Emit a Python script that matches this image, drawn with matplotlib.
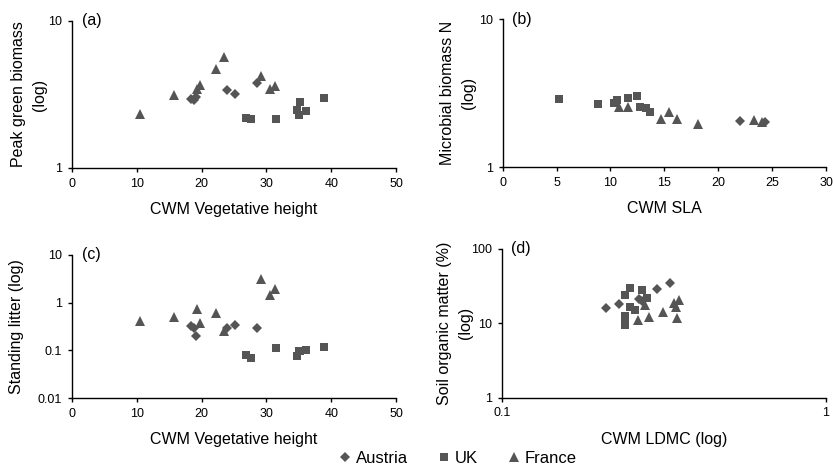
import matplotlib
matplotlib.use('Agg')
import matplotlib.pyplot as plt
from matplotlib.ticker import FuncFormatter, NullLocator, FixedLocator
from matplotlib.lines import Line2D

plt.rcParams['font.family'] = ['Liberation Sans', 'DejaVu Sans']

MARK_COLOR = '#555555'

# CWM vegetative height per site (panels a and c)
austria_height = [18.4, 18.8, 19.1, 23.9, 25.2, 28.6]
uk_height      = [26.9, 27.7, 31.5, 34.7, 35.1, 35.2, 36.1, 38.9]
france_height  = [10.5, 15.7, 19.3, 19.75, 22.2, 23.4, 29.2, 30.5, 31.3]

# (a) peak green biomass
austria_biomass = [2.94, 2.92, 3.02, 3.37, 3.21, 3.76]
uk_biomass      = [2.20, 2.14, 2.15, 2.48, 2.29, 2.83, 2.45, 3.01]
france_biomass  = [2.32, 3.16, 3.46, 3.66, 4.71, 5.71, 4.22, 3.46, 3.62]

# (c) standing litter
austria_litter = [0.33, 0.30, 0.20, 0.29, 0.34, 0.30]
uk_litter      = [0.080, 0.068, 0.114, 0.076, 0.095, 0.099, 0.102, 0.116]
france_litter  = [0.42, 0.50, 0.74, 0.37, 0.60, 0.26, 3.10, 1.48, 1.91]

# (b) CWM SLA vs microbial biomass N
austria_sla  = [22.0, 24.3]
austria_micn = [2.06, 2.01]
uk_sla       = [5.2, 8.8, 10.3, 10.6, 11.6, 12.5, 12.7, 13.3, 13.7]
uk_micn      = [2.90, 2.67, 2.71, 2.86, 2.93, 3.01, 2.54, 2.50, 2.37]
france_sla   = [10.8, 11.6, 14.7, 15.4, 16.2, 18.1, 23.3, 24.1]
france_micn  = [2.55, 2.54, 2.12, 2.37, 2.12, 1.94, 2.07, 2.02]

# (d) CWM LDMC vs soil organic matter
austria_ldmc = [0.210, 0.230, 0.265, 0.271, 0.301, 0.330]
austria_som  = [16.2, 18.4, 21.0, 20.1, 29.0, 35.2]
uk_ldmc      = [0.240, 0.249, 0.270, 0.280, 0.249, 0.258, 0.240, 0.240, 0.240]
uk_som       = [24.0, 29.6, 28.1, 21.7, 16.7, 15.1, 12.5, 11.0, 9.5]
france_ldmc  = [0.264, 0.277, 0.284, 0.314, 0.344, 0.352, 0.347, 0.340]
france_som   = [11.1, 17.6, 12.3, 14.3, 16.7, 20.6, 11.7, 18.5]

MARKERS = {
    'Austria': dict(marker='D', markersize=5.0),
    'UK':      dict(marker='s', markersize=6.0),
    'France':  dict(marker='^', markersize=7.2),
}

LABEL_SIZE = 11.5


def scatter(ax, xs, ys, country):
    ax.plot(xs, ys, ls='none', color=MARK_COLOR, markeredgewidth=0,
            **MARKERS[country])


def style(ax, label, ylab_x):
    for s in ('top', 'right'):
        ax.spines[s].set_visible(False)
    for s in ('left', 'bottom'):
        ax.spines[s].set_linewidth(1.0)
    ax.tick_params(direction='out', length=3, width=1.0, labelsize=9, pad=4)
    ax.yaxis.set_minor_locator(NullLocator())
    ax.xaxis.set_minor_locator(NullLocator())
    # centre of the (possibly two-line) y label, in axes fraction
    ax.yaxis.label.set_va('center')
    ax.yaxis.set_label_coords(ylab_x, 0.5)
    ax.text(0.03, 1.0, label, transform=ax.transAxes, fontsize=11.5,
            ha='left', va='center')


def set_labels(ax, xlab, ylab):
    ax.set_xlabel(xlab, fontsize=LABEL_SIZE, labelpad=9)
    ax.set_ylabel(ylab, fontsize=LABEL_SIZE, linespacing=1.5)


fmt = FuncFormatter(lambda v, p: f'{v:g}')

fig = plt.figure(figsize=(8.33, 4.66), dpi=100)

# (a)
ax = fig.add_axes([0.0864, 0.6395, 0.389, 0.3155])
scatter(ax, austria_height, austria_biomass, 'Austria')
scatter(ax, uk_height, uk_biomass, 'UK')
scatter(ax, france_height, france_biomass, 'France')
ax.set_yscale('log')
ax.set_ylim(1, 10)
ax.set_xlim(0, 50)
ax.yaxis.set_major_locator(FixedLocator([1, 10]))
ax.yaxis.set_major_formatter(fmt)
ax.set_xticks([0, 10, 20, 30, 40, 50])
set_labels(ax, 'CWM Vegetative height', 'Peak green biomass\n(log)')
style(ax, '(a)', -0.133)

# (b)
ax = fig.add_axes([0.6035, 0.6416, 0.3881, 0.3174])
scatter(ax, austria_sla, austria_micn, 'Austria')
scatter(ax, uk_sla, uk_micn, 'UK')
scatter(ax, france_sla, france_micn, 'France')
ax.set_yscale('log')
ax.set_ylim(1, 10)
ax.set_xlim(0, 30)
ax.yaxis.set_major_locator(FixedLocator([1, 10]))
ax.yaxis.set_major_formatter(fmt)
ax.set_xticks([0, 5, 10, 15, 20, 25, 30])
set_labels(ax, 'CWM SLA', 'Microbial biomass N\n(log)')
style(ax, '(b)', -0.138)

# (c)
ax = fig.add_axes([0.0864, 0.1459, 0.389, 0.3069])
scatter(ax, austria_height, austria_litter, 'Austria')
scatter(ax, uk_height, uk_litter, 'UK')
scatter(ax, france_height, france_litter, 'France')
ax.set_yscale('log')
ax.set_ylim(0.01, 10)
ax.set_xlim(0, 50)
ax.yaxis.set_major_locator(FixedLocator([0.01, 0.1, 1, 10]))
ax.yaxis.set_major_formatter(fmt)
ax.set_xticks([0, 10, 20, 30, 40, 50])
set_labels(ax, 'CWM Vegetative height', 'Standing litter (log)')
style(ax, '(c)', -0.17)

# (d)
ax = fig.add_axes([0.6023, 0.1466, 0.3893, 0.3191])
scatter(ax, austria_ldmc, austria_som, 'Austria')
scatter(ax, uk_ldmc, uk_som, 'UK')
scatter(ax, france_ldmc, france_som, 'France')
ax.set_yscale('log')
ax.set_xscale('log')
ax.set_ylim(1, 100)
ax.set_xlim(0.1, 1)
ax.yaxis.set_major_locator(FixedLocator([1, 10, 100]))
ax.yaxis.set_major_formatter(fmt)
ax.xaxis.set_major_locator(FixedLocator([0.1, 1]))
ax.xaxis.set_major_formatter(fmt)
set_labels(ax, 'CWM LDMC (log)', 'Soil organic matter (%)\n(log)')
style(ax, '(d)', -0.145)

handles = [Line2D([], [], ls='none', color=MARK_COLOR, markeredgewidth=0,
                  label=name, **kw) for name, kw in MARKERS.items()]
fig.legend(handles=handles, loc='center', bbox_to_anchor=(0.55, 0.017),
           ncol=3, frameon=False, fontsize=12, handletextpad=0.35,
           columnspacing=1.85, handlelength=0.6, borderpad=0.2)

fig.savefig('out.png', dpi=100)
